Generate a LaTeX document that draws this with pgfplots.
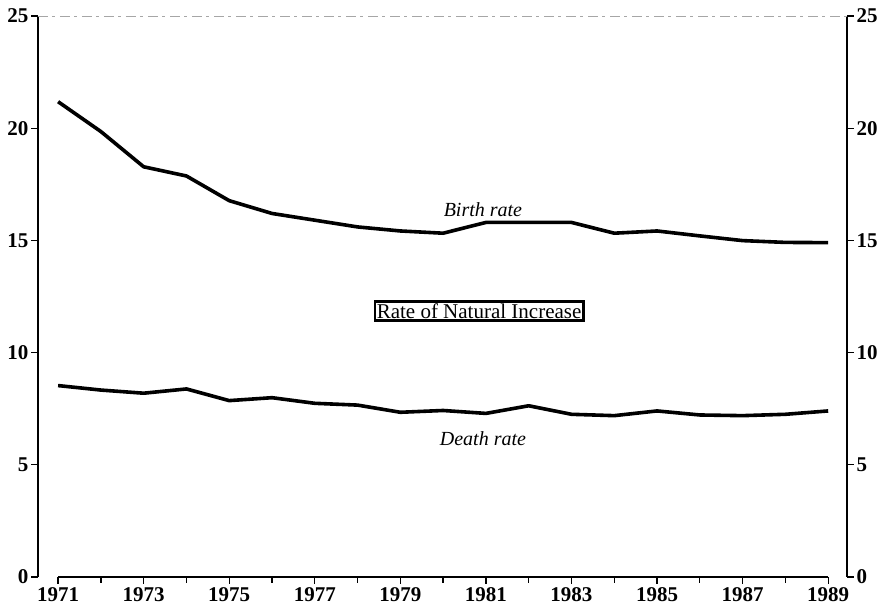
\documentclass[border=0pt]{standalone}
\usepackage{fontspec}
\setmainfont{Liberation Serif}
\usepackage{pgfplots}
\pgfplotsset{compat=1.18}
\pgfplotstableread{
year birth death
1971 21.18 8.53
1972 19.85 8.33
1973 18.28 8.19
1974 17.87 8.38
1975 16.77 7.86
1976 16.20 7.99
1977 15.90 7.74
1978 15.60 7.66
1979 15.42 7.34
1980 15.32 7.42
1981 15.80 7.29
1982 15.80 7.63
1983 15.80 7.25
1984 15.32 7.19
1985 15.42 7.40
1986 15.20 7.22
1987 14.99 7.19
1988 14.91 7.25
1989 14.90 7.40
}\rates
\begin{document}
\begin{tikzpicture}
\pgfplotsset{
  myaxis/.style={
    scale only axis, width=809pt, height=561pt,
    xmin=1970.53, xmax=1989.44, ymin=0, ymax=25,
    clip=false,
    axis line style={draw=none},
    tick align=outside,
    major tick length=7pt, minor tick length=6pt,
    tick style={line width=1.3pt, black},
    ytick={0,5,...,25},
    /pgf/number format/assume math mode=true,
    /pgf/number format/1000 sep={},
    tick label style={font=\fontsize{21}{21}\selectfont\bfseries},
  }
}
\begin{axis}[myaxis,
  xtick={1971,1973,...,1989},
  minor xtick={1972,1974,...,1988},
  xtick pos=bottom,
  ytick pos=left, yticklabel pos=left,
  xticklabel style={yshift=0pt},
  yticklabel style={xshift=1pt},
]
\draw[line width=1.7pt] (rel axis cs:0,0) -- (rel axis cs:0,1);
\draw[line width=1.7pt] (rel axis cs:1,0) -- (rel axis cs:1,1);
\draw[line width=1.4pt] (axis cs:1971,0) -- (axis cs:1989,0);
\draw[line width=0.8pt, gray!70, dash pattern=on 10pt off 4pt on 3pt off 5pt] (rel axis cs:0,1) -- (rel axis cs:1,1);
\addplot[black, line width=3.6pt, line join=round] table[x=year, y=birth] {\rates};
\addplot[black, line width=3.6pt, line join=round] table[x=year, y=death] {\rates};
\node[font=\fontsize{20}{20}\selectfont\itshape] at (axis cs:1980.93,16.35) {Birth rate};
\node[font=\fontsize{20}{20}\selectfont\itshape] at (axis cs:1980.93,6.15) {Death rate};
\node[draw, line width=2.4pt, inner xsep=2pt, inner ysep=2pt, font=\fontsize{21}{21}\selectfont] at (axis cs:1980.84,11.85) {Rate of Natural Increase};
\end{axis}
\begin{axis}[myaxis,
  xtick=\empty,
  ytick pos=right, yticklabel pos=right,
  yticklabel style={xshift=-1pt},
]
\end{axis}
\pgfresetboundingbox
\path ([shift={(-38pt,-34pt)}]current axis.south west) rectangle ([shift={(37pt,16pt)}]current axis.north east);
\end{tikzpicture}
\end{document}
